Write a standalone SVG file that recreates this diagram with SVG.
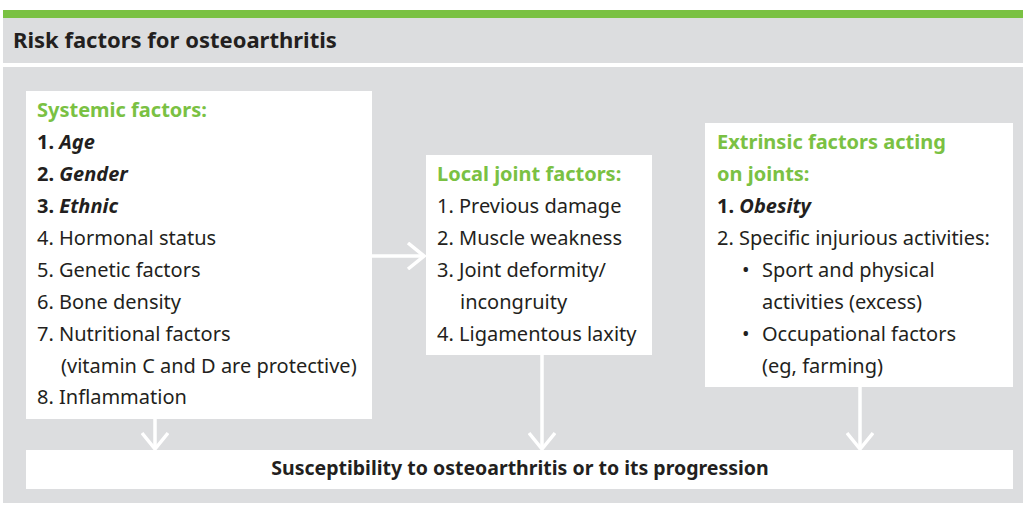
<svg xmlns="http://www.w3.org/2000/svg" width="1023" height="506" viewBox="0 0 1023 506">
  <style>
    .panel { fill: #dcdddf; }
    .box { fill: #ffffff; }
    text { font-family: "Noto Sans", "Open Sans", "Liberation Sans", sans-serif; font-size: 20px; fill: #231f20; }
    .title { font-size: 22px; font-weight: bold; }
    .head { fill: #7ac143; font-weight: bold; }
    .b { font-weight: bold; }
    .bi { font-weight: bold; font-style: italic; }
    .foot { font-size: 19.5px; font-weight: bold; }
    .conn { stroke: #ffffff; stroke-width: 3.5; fill: none; }
  </style>
  <defs>
    <marker id="chev" viewBox="0 0 20 28" refX="18" refY="14" markerWidth="20" markerHeight="28" markerUnits="userSpaceOnUse" orient="auto">
      <path d="M2,1 L18,14 L2,27" fill="none" stroke="#ffffff" stroke-width="3.5"/>
    </marker>
  </defs>

  <!-- header strip -->
  <rect x="3" y="10" width="1020" height="8" fill="#7ac143"/>
  <rect class="panel" x="3" y="18" width="1020" height="45"/>
  <text class="title" x="13" y="48">Risk factors for osteoarthritis</text>

  <!-- body panel -->
  <rect class="panel" x="3" y="67" width="1020" height="436"/>

  <g id="connectors">
    <line class="conn" x1="372" y1="256" x2="424" y2="256" marker-end="url(#chev)"/>
    <line class="conn" x1="155" y1="419" x2="155" y2="449" marker-end="url(#chev)"/>
    <line class="conn" x1="542" y1="355" x2="542" y2="449" marker-end="url(#chev)"/>
    <line class="conn" x1="860" y1="387" x2="860" y2="449" marker-end="url(#chev)"/>
  </g>

  <g id="systemic">
    <rect class="box" x="26" y="91" width="346" height="328"/>
    <text class="head" x="37" y="117">Systemic factors:</text>
    <text x="37" y="149"><tspan class="b">1. </tspan><tspan class="bi">Age</tspan></text>
    <text x="37" y="181"><tspan class="b">2. </tspan><tspan class="bi">Gender</tspan></text>
    <text x="37" y="213"><tspan class="b">3. </tspan><tspan class="bi">Ethnic</tspan></text>
    <text x="37" y="245">4. Hormonal status</text>
    <text x="37" y="277">5. Genetic factors</text>
    <text x="37" y="309">6. Bone density</text>
    <text x="37" y="341">7. Nutritional factors</text>
    <text x="61" y="373">(vitamin C and D are protective)</text>
    <text x="37" y="404">8. Inflammation</text>
  </g>

  <g id="local">
    <rect class="box" x="426" y="155" width="226" height="200"/>
    <text class="head" x="437" y="181">Local joint factors:</text>
    <text x="437" y="213">1. Previous damage</text>
    <text x="437" y="245">2. Muscle weakness</text>
    <text x="437" y="277">3. Joint deformity/</text>
    <text x="460" y="309">incongruity</text>
    <text x="437" y="341">4. Ligamentous laxity</text>
  </g>

  <g id="extrinsic">
    <rect class="box" x="705" y="123" width="308" height="264"/>
    <text class="head" x="717" y="149">Extrinsic factors acting</text>
    <text class="head" x="717" y="181">on joints:</text>
    <text x="717" y="213"><tspan class="b">1. </tspan><tspan class="bi">Obesity</tspan></text>
    <text x="717" y="245">2. Specific injurious activities:</text>
    <text x="742" y="277">•</text>
    <text x="762" y="277">Sport and physical</text>
    <text x="762" y="309">activities (excess)</text>
    <text x="742" y="341">•</text>
    <text x="762" y="341">Occupational factors</text>
    <text x="762" y="373">(eg, farming)</text>
  </g>

  <g id="outcome">
    <rect class="box" x="26" y="450" width="987" height="39"/>
    <text class="foot" x="520" y="475" text-anchor="middle">Susceptibility to osteoarthritis or to its progression</text>
  </g>
</svg>
